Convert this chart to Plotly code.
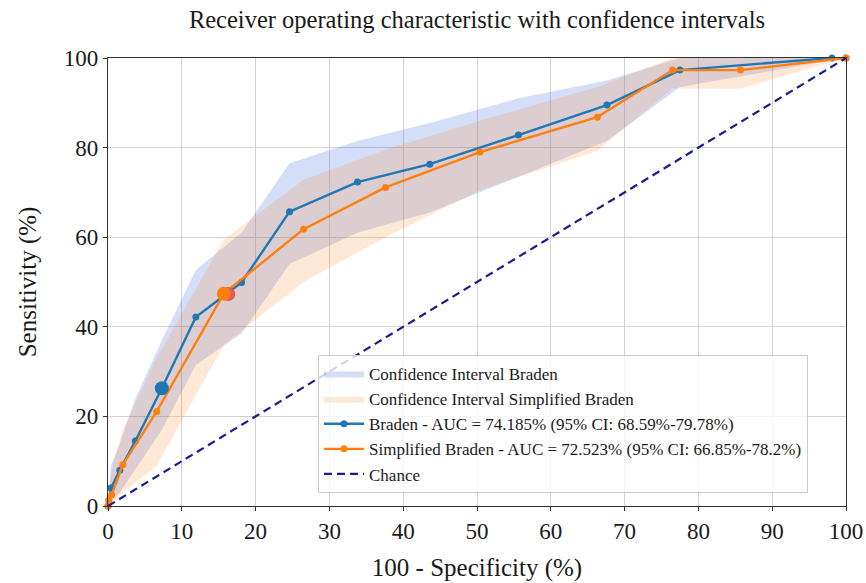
import plotly.graph_objects as go

# ---- data (percent) ----
braden_fpr = [0, 0.4, 1.6, 3.7, 7.3, 11.9, 18.1, 24.6, 33.8, 43.6, 55.6, 67.6, 77.5, 98.1, 100]
braden_tpr = [0, 4.0, 8.0, 14.5, 26.3, 42.2, 49.9, 65.7, 72.3, 76.3, 82.8, 89.5, 97.3, 100, 100]
braden_upper = [0, 9, 14, 24, 37, 52.7, 61, 76.5, 81.5, 85.5, 91, 95, 100, 100, 100]
braden_lower = [0, 1, 3, 8, 17, 31.5, 38.5, 54, 61, 65.5, 73.5, 81.5, 93.5, 99.5, 100]

simp_fpr = [0, 0.1, 0.5, 2.0, 6.6, 15.7, 26.5, 37.6, 50.4, 66.3, 76.5, 85.7, 100]
simp_tpr = [0, 1.3, 2.5, 9.2, 21.1, 47.4, 61.8, 71.1, 79.0, 86.8, 97.3, 97.3, 100]
simp_upper = [0, 4, 8, 17, 33, 59.5, 72.8, 79.5, 86, 93.5, 100, 100, 100]
simp_lower = [0, 0, 0.5, 3, 9, 36, 50, 60, 70.5, 79.3, 93.2, 93.2, 100]

chance_x = [0, 100]
chance_y = [0, 100]

braden_opt_x, braden_opt_y = [7.3], [26.3]
simp_opt_x, simp_opt_y = [15.7], [47.4]
red_opt_x, red_opt_y = [16.3], [47.3]

x_ticks = [0, 10, 20, 30, 40, 50, 60, 70, 80, 90, 100]
y_ticks = [0, 20, 40, 60, 80, 100]

labels = {
    "ci_b": "Confidence Interval Braden",
    "ci_s": "Confidence Interval Simplified Braden",
    "b": "Braden - AUC = 74.185% (95% CI: 68.59%-79.78%)",
    "s": "Simplified Braden - AUC = 72.523% (95% CI: 66.85%-78.2%)",
    "c": "Chance",
}

BLUE = "#1f77b4"
ORANGE = "#ff7f0e"
SERIF = "Liberation Serif, Times New Roman, serif"
TXT = "#1a1a1a"

fig = go.Figure()

fig.add_trace(go.Scatter(
    x=braden_fpr + braden_fpr[::-1], y=braden_upper + braden_lower[::-1],
    fill="toself", fillcolor="rgba(65,105,225,0.22)", line=dict(width=0),
    mode="lines", name=labels["ci_b"], hoverinfo="skip"))
fig.add_trace(go.Scatter(
    x=simp_fpr + simp_fpr[::-1], y=simp_upper + simp_lower[::-1],
    fill="toself", fillcolor="rgba(255,127,14,0.17)", line=dict(width=0),
    mode="lines", name=labels["ci_s"], hoverinfo="skip"))

fig.add_trace(go.Scatter(
    x=braden_fpr, y=braden_tpr, mode="lines+markers", name=labels["b"],
    line=dict(color=BLUE, width=2.4), marker=dict(color=BLUE, size=7), cliponaxis=False))
fig.add_trace(go.Scatter(
    x=simp_fpr, y=simp_tpr, mode="lines+markers", name=labels["s"],
    line=dict(color=ORANGE, width=2.4), marker=dict(color=ORANGE, size=7), cliponaxis=False))

fig.add_trace(go.Scatter(
    x=chance_x, y=chance_y, mode="lines", name=labels["c"],
    line=dict(color="#1c1c8f", width=2.2, dash="8px,5px"), cliponaxis=False))

fig.add_trace(go.Scatter(x=braden_opt_x, y=braden_opt_y, mode="markers", showlegend=False,
                         marker=dict(color=BLUE, size=14), cliponaxis=False))
fig.add_trace(go.Scatter(x=red_opt_x, y=red_opt_y, mode="markers", showlegend=False,
                         marker=dict(color="#e05a5a", size=14), cliponaxis=False))
fig.add_trace(go.Scatter(x=simp_opt_x, y=simp_opt_y, mode="markers", showlegend=False,
                         marker=dict(color=ORANGE, size=14), cliponaxis=False))

axis_common = dict(
    showgrid=True, gridcolor="#d3d3d3", gridwidth=1,
    showline=True, linecolor="#333333", linewidth=1.2, mirror=True,
    ticks="outside", ticklen=4, tickcolor="#333333",
    zeroline=False, automargin=False,
    tickfont=dict(family=SERIF, size=23, color=TXT),
)

fig.update_layout(
    width=866, height=583,
    margin=dict(l=108, r=20, t=58, b=77),
    paper_bgcolor="white", plot_bgcolor="white",
    title=dict(text="Receiver operating characteristic with confidence intervals",
               x=(108 + 846) / 2 / 866, xanchor="center", y=1 - 19 / 583, yanchor="middle",
               font=dict(family=SERIF, size=24.5, color=TXT)),
    xaxis=dict(range=[0, 100], tickvals=x_ticks, ticktext=[str(v) for v in x_ticks],
               title=dict(text="100 - Specificity (%)", font=dict(family=SERIF, size=25, color=TXT),
                          standoff=15),
               **axis_common),
    yaxis=dict(range=[0, 100], tickvals=y_ticks, ticktext=[str(v) for v in y_ticks],
               title=dict(text="Sensitivity (%)", font=dict(family=SERIF, size=25, color=TXT),
                          standoff=20),
               **axis_common),
    legend=dict(x=(318 - 108) / 738, y=(506 - 355) / 448, xanchor="left", yanchor="top",
                bgcolor="rgba(255,255,255,0.8)", bordercolor="#cccccc", borderwidth=1,
                font=dict(family=SERIF, size=17, color=TXT),
                tracegroupgap=0, itemwidth=40),
    showlegend=True,
)

fig.write_html("out.html", config={"displayModeBar": False},
               post_script="document.body.style.margin='0';document.body.style.padding='0';")
